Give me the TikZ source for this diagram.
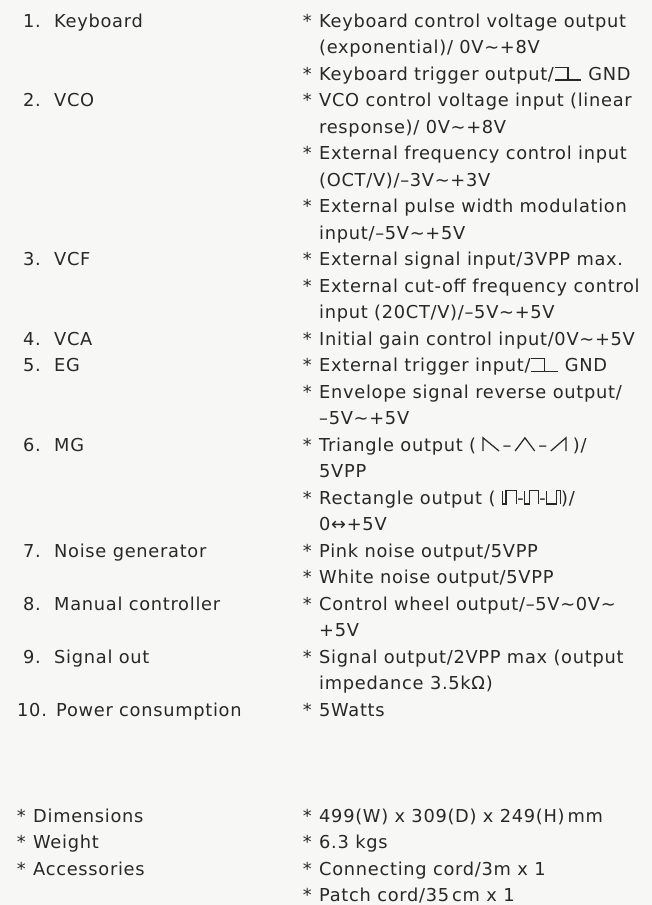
\documentclass[tikz,border=0pt]{standalone}
\usepackage{fontspec}
\usepackage{tikz}

\newfontfamily\specfont{DejaVu Sans}[LetterSpace=4]
\definecolor{ink}{RGB}{40,40,40}
\definecolor{paper}{RGB}{247,247,245}

% asterisk hanging left of a spec line
\newcommand\bl{\llap{*\hspace{0.42em}}}
% trigger symbol, waveforms
\newcommand\trigsym{\tikz[baseline=0pt, draw=ink, line width=0.07em]
    \draw (0,0.72em) -- (0.75em,0.72em) -- (0.75em,0) (0,0) -- (1.5em,0);}
\newcommand\sawdn{\tikz[baseline=0pt, draw=ink, line width=0.07em]
    \draw (0,0) -- (0,0.74em) -- (0.9em,0);}
\newcommand\trian{\tikz[baseline=0pt, draw=ink, line width=0.07em]
    \draw (0,0) -- (0.55em,0.74em) -- (1.1em,0);}
\newcommand\sawup{\tikz[baseline=0pt, draw=ink, line width=0.07em]
    \draw (0,0) -- (0.85em,0.74em) -- (0.85em,0);}
\newcommand\pulse[1]{\tikz[baseline=0pt, draw=ink, line width=0.07em]
    \draw (0,0.74em) -- (0,0) -- (#1em,0) -- (#1em,0.74em) -- (0.8em,0.74em) -- (0.8em,0);}

\begin{document}
\begin{tikzpicture}[x=1pt, y=-1pt
    , every node/.style={anchor=base west, inner sep=0pt, text=ink,
        font=\fontsize{17.8}{20}\specfont}
    ]

    \fill[paper] (0,0) rectangle (652,905);
    \useasboundingbox (0,0) rectangle (652,905);

    % left column
    \node (n1) at (23,27) {1.};      \node (kbd) at (54,27) {Keyboard};
    \node (n2) at (23,106.5) {2.};   \node (vco) at (54,106.5) {VCO};
    \node (n3) at (23,265.5) {3.};   \node (vcf) at (54,265.5) {VCF};
    \node (n4) at (23,345) {4.};     \node (vca) at (54,345) {VCA};
    \node (n5) at (23,371.5) {5.};   \node (eg) at (54,371.5) {EG};
    \node (n6) at (23,451) {6.};     \node (mg) at (54,451) {MG};
    \node (n7) at (23,557) {7.};     \node (noise) at (54,557) {Noise generator};
    \node (n8) at (23,610) {8.};     \node (manual) at (54,610) {Manual controller};
    \node (n9) at (23,663) {9.};     \node (sigout) at (54,663) {Signal out};
    \node (n10) at (17,716) {10.};   \node (power) at (56,716) {Power consumption};

    \node (dim) at (33,822) {\bl Dimensions};
    \node (wgt) at (33,848.5) {\bl Weight};
    \node (acc) at (33,875) {\bl Accessories};

    % right column
    \node (kbdcv) at (319,27) {\bl Keyboard control voltage output};
    \node (kbdcvb) at (319,53.5) {(exponential)/ 0V∼+8V};
    \node (kbdtr) at (319,80) {\bl Keyboard trigger output/\trigsym\ GND};
    \node (vcocv) at (319,106.5) {\bl VCO control voltage input (linear};
    \node (vcocvb) at (319,133) {response)/ 0V∼+8V};
    \node (vcofm) at (319,159.5) {\bl External frequency control input};
    \node (vcofmb) at (319,186) {(OCT/V)/–3V∼+3V};
    \node (vcopwm) at (319,212.5) {\bl External pulse width modulation};
    \node (vcopwmb) at (319,239) {input/–5V∼+5V};
    \node (vcfin) at (319,265.5) {\bl External signal input/3VPP max.};
    \node (vcfco) at (319,292) {\bl External cut-off frequency control};
    \node (vcfcob) at (319,318.5) {input (20CT/V)/–5V∼+5V};
    \node (vcagain) at (319,345) {\bl Initial gain control input/0V∼+5V};
    \node (egtr) at (319,371.5) {\bl External trigger input/\trigsym\ GND};
    \node (egrev) at (319,398) {\bl Envelope signal reverse output/};
    \node (egrevb) at (319,424.5) {–5V∼+5V};
    \node (mgtri) at (319,451) {\bl Triangle output ( \sawdn\,–\,\trian\,–\,\sawup\ )/};
    \node (mgtrib) at (319,477.5) {5VPP};
    \node (mgrect) at (319,504) {\bl Rectangle output ( \pulse{0.2}-\pulse{0.3}-\pulse{0.55})/};
    \node (mgrectb) at (319,530.5) {0↔+5V};
    \node (pink) at (319,557) {\bl Pink noise output/5VPP};
    \node (white) at (319,583.5) {\bl White noise output/5VPP};
    \node (wheel) at (319,610) {\bl Control wheel output/–5V∼0V∼};
    \node (wheelb) at (319,636.5) {+5V};
    \node (out) at (319,663) {\bl Signal output/2VPP max (output};
    \node (outb) at (319,689.5) {impedance 3.5kΩ)};
    \node (watts) at (319,716) {\bl 5Watts};

    \node (size) at (319,822) {\bl 499(W) x 309(D) x 249(H)\,mm};
    \node (kgs) at (319,848.5) {\bl 6.3 kgs};
    \node (cord) at (319,875) {\bl Connecting cord/3m x 1};
    \node (patch) at (319,901.5) {\bl Patch cord/35\,cm x 1};

\end{tikzpicture}
\end{document}
